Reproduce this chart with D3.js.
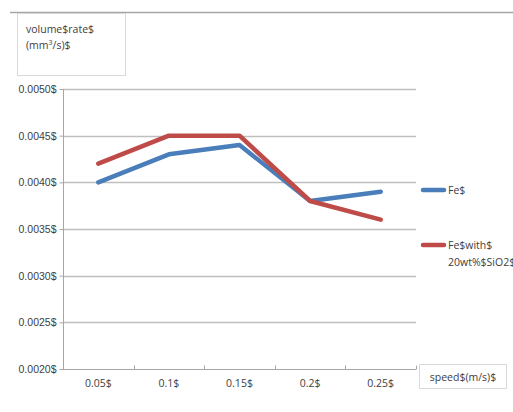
<!DOCTYPE html>
<html>
<head>
<meta charset="utf-8">
<script src="https://cdn.jsdelivr.net/npm/d3@7"></script>
<style>
  html, body { margin: 0; padding: 0; background: #fff; }
  svg { display: block; font-family: "Open Sans", sans-serif; }
</style>
</head>
<body>
<svg id="chart" width="513" height="412"></svg>
<script>
// Wear volume rate against sliding speed
const categories = ["0.05$", "0.1$", "0.15$", "0.2$", "0.25$"];
const feValues = [0.0040, 0.0043, 0.0044, 0.0038, 0.0039];
const feSiO2Values = [0.0042, 0.0045, 0.0045, 0.0038, 0.0036];
const yTicks = [0.0020, 0.0025, 0.0030, 0.0035, 0.0040, 0.0045, 0.0050];
const seriesNames = ["Fe$", ["Fe$with$", "20wt%$SiO2$"]];
const seriesColors = ["#4a7ebb", "#be4b48"];

const svg = d3.select("#chart");
const textColor = "#404040";
const gridColor = "#bfbfbf";

const plot = { left: 63, right: 416, top: 89, bottom: 369 };

const x = d3.scaleBand().domain(categories).range([plot.left, plot.right]);
const y = d3.scaleLinear().domain([0.0020, 0.0050]).range([plot.bottom, plot.top]);

// frame line across the top
svg.append("line")
  .attr("x1", 10).attr("x2", 513).attr("y1", 12.5).attr("y2", 12.5)
  .attr("stroke", "#a6a6a6").attr("stroke-width", 1.5);

// horizontal gridlines
svg.append("g").selectAll("line")
  .data(yTicks.slice(1))
  .join("line")
  .attr("x1", plot.left).attr("x2", plot.right)
  .attr("y1", d => Math.round(y(d)) + 0.5).attr("y2", d => Math.round(y(d)) + 0.5)
  .attr("stroke", gridColor).attr("stroke-width", 1.3);

// y axis
const yAxis = svg.append("g")
  .attr("transform", `translate(${plot.left + 0.5},0)`)
  .call(d3.axisLeft(y).tickValues(yTicks).tickSize(4).tickPadding(3)
    .tickFormat(d => d3.format(".4f")(d) + "$"));
yAxis.select(".domain").attr("stroke", "#a6a6a6").attr("d", `M0,${plot.top}V${plot.bottom}`);
yAxis.selectAll(".tick line").attr("stroke", "#a6a6a6");
yAxis.selectAll(".tick text").attr("fill", textColor).style("font-size", "10.5px");

// x axis (ticks at band edges, pointing up)
const xg = svg.append("g").attr("transform", `translate(0,${plot.bottom + 0.5})`);
xg.append("line")
  .attr("x1", plot.left).attr("x2", plot.right)
  .attr("stroke", "#a6a6a6");
const edges = categories.map(c => x(c)).concat([plot.right]);
xg.selectAll(".edge").data(edges).join("line")
  .attr("class", "edge")
  .attr("x1", d => Math.round(d) + 0.5).attr("x2", d => Math.round(d) + 0.5)
  .attr("y1", 0).attr("y2", -4)
  .attr("stroke", "#a6a6a6");
xg.selectAll("text").data(categories).join("text")
  .attr("x", d => x(d) + x.bandwidth() / 2)
  .attr("y", 17)
  .attr("text-anchor", "middle")
  .attr("fill", textColor)
  .style("font-size", "10.5px")
  .text(d => d);

// series lines
const line = d3.line()
  .x((d, i) => x(categories[i]) + x.bandwidth() / 2)
  .y(d => y(d));

[feValues, feSiO2Values].forEach((vals, k) => {
  svg.append("path")
    .datum(vals)
    .attr("fill", "none")
    .attr("stroke", seriesColors[k])
    .attr("stroke-width", 4.5)
    .attr("stroke-linejoin", "round")
    .attr("stroke-linecap", "round")
    .attr("d", line);
});

// legend
const legendY = [190, 245];
seriesNames.forEach((name, k) => {
  const g = svg.append("g");
  g.append("line")
    .attr("x1", 423).attr("x2", 444)
    .attr("y1", legendY[k]).attr("y2", legendY[k])
    .attr("stroke", seriesColors[k]).attr("stroke-width", 4.5)
    .attr("stroke-linecap", "round");
  const lines = Array.isArray(name) ? name : [name];
  const t = g.append("text")
    .attr("x", 448).attr("y", legendY[k] + 4)
    .attr("fill", textColor).style("font-size", "10.5px");
  lines.forEach((s, i) => {
    t.append("tspan").attr("x", 448).attr("dy", i === 0 ? 0 : 17).text(s);
  });
});

// y axis title box
svg.append("rect")
  .attr("x", 17.5).attr("y", 13.5).attr("width", 108).attr("height", 62)
  .attr("fill", "#fff").attr("stroke", "#d9d9d9");
const yt = svg.append("text").attr("fill", textColor).style("font-size", "10.5px");
yt.append("tspan").attr("x", 26).attr("y", 33).text("volume$rate$");
const yt2 = yt.append("tspan").attr("x", 26).attr("y", 49);
yt2.text("(mm");
yt2.append("tspan").attr("dy", -4).style("font-size", "7px").text("3");
yt2.append("tspan").attr("dy", 4).text("/s)$");

// x axis title box
svg.append("rect")
  .attr("x", 419.5).attr("y", 364.5).attr("width", 87).attr("height", 24)
  .attr("fill", "#fff").attr("stroke", "#d9d9d9");
svg.append("text")
  .attr("x", 463).attr("y", 381)
  .attr("text-anchor", "middle")
  .attr("fill", textColor).style("font-size", "10.5px")
  .text("speed$(m/s)$");
</script>
</body>
</html>
